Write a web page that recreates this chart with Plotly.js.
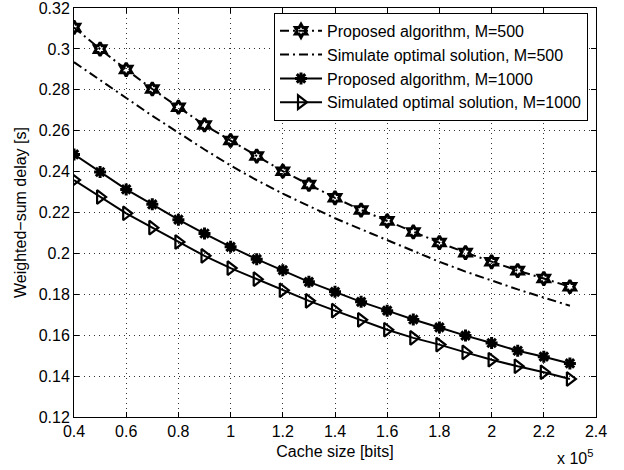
<!DOCTYPE html>
<html>
<head>
<meta charset="utf-8">
<script src="https://cdn.plot.ly/plotly-3.0.1.min.js"></script>
<style>html,body{margin:0;padding:0;background:#fff;}#chart{width:624px;height:470px;}</style>
</head>
<body>
<div id="chart"></div>
<script>
// Cache size in units of 10^5 bits
var cacheSize = [0.4,0.5,0.6,0.7,0.8,0.9,1.0,1.1,1.2,1.3,1.4,1.5,1.6,1.7,1.8,1.9,2.0,2.1,2.2,2.3];
var proposedM500 = [0.3105,0.2999,0.2899,0.2804,0.2715,0.2628,0.2552,0.2476,0.2402,0.2337,0.2272,0.2212,0.2159,0.2105,0.2053,0.2004,0.1959,0.1916,0.1877,0.1837];
var optimalM500  = [0.2935,0.2846,0.2760,0.2673,0.2590,0.2508,0.2430,0.2358,0.2292,0.2230,0.2172,0.2118,0.2064,0.2010,0.1959,0.1911,0.1866,0.1824,0.1784,0.1744];
var proposedM1000 = [0.2484,0.2398,0.2313,0.2240,0.2165,0.2097,0.2032,0.1972,0.1918,0.1861,0.1812,0.1763,0.1720,0.1677,0.1638,0.1598,0.1562,0.1524,0.1495,0.1462];
var optimalM1000  = [0.2359,0.2276,0.2196,0.2126,0.2056,0.1988,0.1928,0.1874,0.1820,0.1768,0.1720,0.1675,0.1627,0.1587,0.1554,0.1516,0.1480,0.1448,0.1419,0.1386];
var seriesNames = ['Proposed algorithm, M=500','Simulate optimal solution, M=500','Proposed algorithm, M=1000','Simulated optimal solution, M=1000'];
var xTicks = [0.4,0.6,0.8,1.0,1.2,1.4,1.6,1.8,2.0,2.2,2.4];
var yTicks = [0.12,0.14,0.16,0.18,0.2,0.22,0.24,0.26,0.28,0.3,0.32];
var yTickText = ['0.12','0.14','0.16','0.18','0.2','0.22','0.24','0.26','0.28','0.3','0.32'];

var FONT = 'Liberation Sans, Arial, Helvetica, sans-serif';
var FS = 16;
var dashdot = '9px,4px,2px,4px';

var traces = [
  {x: cacheSize, y: proposedM500, name: seriesNames[0], mode: 'lines+markers',
   line: {color: '#000', width: 2, dash: dashdot},
   marker: {symbol: 'hexagram-open', size: 10, color: '#000', line: {width: 3, color: '#000'}}},
  {x: cacheSize, y: optimalM500, name: seriesNames[1], mode: 'lines',
   line: {color: '#000', width: 2, dash: dashdot}},
  {x: cacheSize, y: proposedM1000, name: seriesNames[2], mode: 'lines+markers',
   line: {color: '#000', width: 2},
   marker: {symbol: 'asterisk-open', size: 10, color: '#000', line: {width: 3, color: '#000'}}},
  {x: cacheSize, y: optimalM1000, name: seriesNames[3], mode: 'lines+markers',
   line: {color: '#000', width: 2},
   marker: {symbol: 'triangle-right-open', size: 12, color: '#000', line: {width: 2.2, color: '#000'}}}
];

var axisCommon = {
  showline: true, linecolor: '#000', linewidth: 1, mirror: 'ticks',
  ticks: 'inside', ticklen: 5, tickcolor: '#000', tickwidth: 1,
  showgrid: true, gridcolor: '#333', gridwidth: 1, griddash: '1px,4px',
  zeroline: false, ticklabeloverflow: 'allow',
  tickfont: {family: FONT, size: FS, color: '#000'}
};

var layout = {
  width: 624, height: 470,
  margin: {l: 74, r: 28, t: 8, b: 53},
  paper_bgcolor: '#fff', plot_bgcolor: '#fff',
  font: {family: FONT, size: FS, color: '#000'},
  showlegend: true,
  xaxis: Object.assign({}, axisCommon, {
    range: [0.4, 2.4000001], tickvals: xTicks,
    title: {text: 'Cache size [bits]', font: {family: FONT, size: FS, color: '#000'}, standoff: 6}
  }),
  yaxis: Object.assign({}, axisCommon, {
    range: [0.1199999, 0.3200001], tickvals: yTicks, ticktext: yTickText,
    title: {text: 'Weighted\u2212sum delay [s]', font: {family: FONT, size: FS, color: '#000'}, standoff: 8}
  }),
  legend: {
    x: 0.9847, y: 0.988, xanchor: 'right', yanchor: 'top',
    bgcolor: '#fff', bordercolor: '#000', borderwidth: 1,
    font: {family: FONT, size: FS, color: '#000'},
    itemwidth: 42, tracegroupgap: 0
  },
  annotations: [
    {xref: 'paper', yref: 'paper', x: 1.0, y: 0, xanchor: 'center', yanchor: 'top', yshift: -28, xshift: -21,
     text: 'x 10<sup>5</sup>', showarrow: false, font: {family: FONT, size: FS, color: '#000'}}
  ]
};

Plotly.newPlot('chart', traces, layout, {displayModeBar: false, staticPlot: true});
</script>
</body>
</html>
